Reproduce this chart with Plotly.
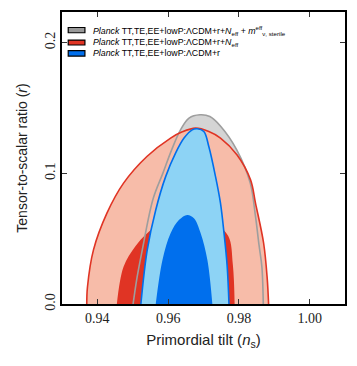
import plotly.graph_objects as go

# contour boundaries (n_s, r)
gray_outer_ns = [0.9501, 0.9512, 0.9527, 0.9557, 0.9585, 0.9610, 0.9635, 0.9659, 0.9690, 0.9718, 0.9749, 0.9794, 0.9832, 0.9847, 0.9857, 0.9865, 0.9869]
gray_outer_r = [0.0, 0.020, 0.0414, 0.080, 0.100, 0.118, 0.1333, 0.1423, 0.1448, 0.1435, 0.1359, 0.118, 0.0927, 0.067, 0.045, 0.0286, 0.0]

red_outer_ns = [0.9370, 0.9372, 0.9389, 0.9427, 0.9474, 0.9540, 0.9607, 0.9640, 0.9678, 0.9715, 0.9748, 0.9795, 0.9833, 0.9847, 0.9870, 0.9880, 0.9884]
red_outer_r = [0.0, 0.013, 0.0414, 0.0695, 0.0925, 0.1129, 0.127, 0.1318, 0.1346, 0.1320, 0.127, 0.114, 0.095, 0.0772, 0.0465, 0.020, 0.0]

red_inner_ns = [0.9455, 0.9474, 0.9507, 0.9540, 0.9580, 0.9630, 0.9680, 0.9730, 0.9770, 0.9783, 0.9788]
red_inner_r = [0.0, 0.0286, 0.044, 0.054, 0.062, 0.066, 0.066, 0.062, 0.052, 0.030, 0.0]

blue_outer_ns = [0.9523, 0.9541, 0.9565, 0.9593, 0.9621, 0.9645, 0.9668, 0.9682, 0.9701, 0.9715, 0.9734, 0.9748, 0.9758, 0.9767, 0.9772]
blue_outer_r = [0.0, 0.0414, 0.072, 0.0975, 0.1155, 0.127, 0.1333, 0.1341, 0.132, 0.1205, 0.0975, 0.0772, 0.0542, 0.0286, 0.0]

blue_inner_ns = [0.9565, 0.9584, 0.9607, 0.9631, 0.9654, 0.9673, 0.9692, 0.9711, 0.9725]
blue_inner_r = [0.0, 0.0337, 0.0542, 0.0644, 0.0682, 0.0657, 0.0542, 0.0337, 0.0]

legend_labels = [
    "<i>Planck</i> TT,TE,EE+lowP:ΛCDM+r+<i>N</i><sub>eff</sub> + <i>m</i><sup>eff</sup><sub>ν, sterile</sub>",
    "<i>Planck</i> TT,TE,EE+lowP:ΛCDM+r+<i>N</i><sub>eff</sub>",
    "<i>Planck</i> TT,TE,EE+lowP:ΛCDM+r",
]

x_ticks = [0.94, 0.96, 0.98, 1.00]
x_ticktext = ["0.94", "0.96", "0.98", "1.00"]
y_ticks = [0.0, 0.1, 0.2]
y_ticktext = ["0.0", "0.1", "0.2"]

GRAY_L, GRAY_LINE = "#D4D4D4", "#9E9E9E"
RED_L, RED_D = "#F7BCA9", "#E03424"
BLUE_L, BLUE_D = "#8DD3F5", "#006FED"


def fill(x, y, color):
    return go.Scatter(x=x, y=y, mode="lines", fill="toself", fillcolor=color,
                      line=dict(width=0, shape="spline", smoothing=1.0),
                      hoverinfo="skip", showlegend=False)


def edge(x, y, color):
    return go.Scatter(x=x, y=y, mode="lines",
                      line=dict(color=color, width=1.6, shape="spline", smoothing=1.0),
                      hoverinfo="skip", showlegend=False)


fig = go.Figure()
fig.add_trace(fill(gray_outer_ns, gray_outer_r, GRAY_L))
fig.add_trace(fill(red_outer_ns, red_outer_r, RED_L))
fig.add_trace(fill(red_inner_ns, red_inner_r, RED_D))
fig.add_trace(edge(gray_outer_ns, gray_outer_r, GRAY_LINE))
fig.add_trace(edge(red_outer_ns, red_outer_r, RED_D))
fig.add_trace(fill(blue_outer_ns, blue_outer_r, BLUE_L))
fig.add_trace(fill(blue_inner_ns, blue_inner_r, BLUE_D))
fig.add_trace(edge(blue_outer_ns, blue_outer_r, BLUE_D))

# hand-made legend in the top-left corner
patch_cols = ["#999999", RED_D, BLUE_D]
rows = [(0.947, 0.929), (0.904, 0.887), (0.8675, 0.849)]
for lab, col, (y1, y0) in zip(legend_labels, patch_cols, rows):
    fig.add_shape(type="rect", xref="paper", yref="paper", x0=0.022, x1=0.081, y0=y0, y1=y1,
                  fillcolor=col, line=dict(color="black", width=1.2))
    fig.add_annotation(xref="paper", yref="paper", x=0.102, y=(y0 + y1) / 2, text=lab,
                       showarrow=False, xanchor="left", yanchor="middle",
                       font=dict(family="Liberation Sans", size=8.8, color="black"))

axis_common = dict(showline=True, linecolor="black", linewidth=1.5, mirror="allticks",
                   ticks="inside", ticklen=5, tickwidth=1, tickcolor="#333333",
                   showgrid=False, zeroline=False, automargin=False,
                   tickfont=dict(family="Liberation Serif", size=14, color="#222222"))

fig.update_layout(
    width=357, height=366,
    margin=dict(l=62, r=12, t=12, b=62),
    plot_bgcolor="white", paper_bgcolor="white",
    xaxis=dict(range=[0.93, 1.01], tickvals=x_ticks, ticktext=x_ticktext,
               title=dict(text="Primordial tilt (<i>n</i><sub>s</sub>)", standoff=10,
                          font=dict(family="Liberation Sans", size=15, color="#222222")),
               **axis_common),
    yaxis=dict(range=[0, 0.2235], tickvals=y_ticks, ticktext=y_ticktext, tickangle=-90,
               title=dict(text="Tensor-to-scalar ratio (<i>r</i>)", standoff=12,
                          font=dict(family="Liberation Sans", size=14, color="#222222")),
               **axis_common),
)

fig.write_html("out.html", config={"displayModeBar": False},
               post_script="document.body.style.margin='0';")
